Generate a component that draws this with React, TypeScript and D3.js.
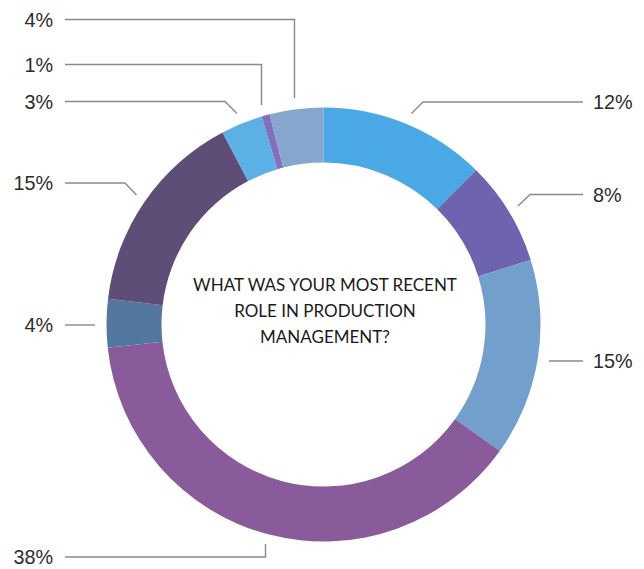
import React from "react";
import * as d3 from "d3";

const categories = ["A", "B", "C", "D", "E", "F", "G", "H", "I"];
const values = [12.4, 7.8, 14.7, 38.4, 3.6, 15.4, 3.1, 0.6, 4.0];
const labels = ["12%", "8%", "15%", "38%", "4%", "15%", "3%", "1%", "4%"];
const colors = ["#4AA8E4", "#6E63AE", "#739FCD", "#8A5B9A", "#53779E", "#5E4D77", "#5DB0E6", "#8271BA", "#86A6CE"];
const titleLines = ["WHAT WAS YOUR MOST RECENT", "ROLE IN PRODUCTION", "MANAGEMENT?"];

// label layout: side, text y, elbow x, and leader end point
const labelLayout = [
  { side: "r", y: 102, elbowX: 423, end: [411.5, 113.5] },
  { side: "r", y: 194.5, elbowX: 530, end: [518, 206] },
  { side: "r", y: 361, elbowX: 549, end: [549, 361] },
  { side: "l", y: 557, elbowX: 265.5, end: [265.5, 544] },
  { side: "l", y: 325, elbowX: 95, end: [95, 325] },
  { side: "l", y: 183, elbowX: 125, end: [136.5, 195] },
  { side: "l", y: 101.5, elbowX: 225, end: [237, 113.5] },
  { side: "l", y: 64.5, elbowX: 261.5, end: [261.5, 105] },
  { side: "l", y: 19.5, elbowX: 294.5, end: [294.5, 98] },
];

export default function App() {
  const W = 644, H = 569;
  const cx = 323.5, cy = 324.5;
  const rOuter = 217, rInner = 162;
  const pie = d3.pie<number>().sort(null).value((d) => d);
  const arcs = pie(values);
  const arc = d3.arc<d3.PieArcDatum<number>>().innerRadius(rInner).outerRadius(rOuter);

  return (
    <svg width={W} height={H} style={{ position: "absolute", left: 0, top: 0 }}>
      <rect width={W} height={H} fill="#fff" />
      <g transform={`translate(${cx},${cy})`}>
        {arcs.map((a, i) => (
          <path key={categories[i]} d={arc(a) || ""} fill={colors[i]} />
        ))}
      </g>
      {labelLayout.map((l, i) => {
        const startX = l.side === "r" ? 583 : 65;
        const pts: [number, number][] = [[startX, l.y], [l.elbowX, l.y], [l.end[0], l.end[1]]];
        const line = d3.line();
        return (
          <g key={"lab" + i}>
            <path d={line(pts) || ""} fill="none" stroke="#8a8a8a" strokeWidth={1.4} />
            <text
              x={l.side === "r" ? 593 : 53}
              y={l.y + 0.5}
              dy="0.35em"
              textAnchor={l.side === "r" ? "start" : "end"}
              fontFamily="Liberation Sans, Arial, sans-serif"
              fontSize={19.8}
              fill="#2b2b2b"
            >
              {labels[i]}
            </text>
          </g>
        );
      })}
      {titleLines.map((t, i) => (
        <text
          key={t}
          x={325}
          y={285 + i * 26}
          dy="0.35em"
          textAnchor="middle"
          fontFamily="Lato, sans-serif"
          fontSize={17}
          fill="#1a1a1a"
        >
          {t}
        </text>
      ))}
    </svg>
  );
}
